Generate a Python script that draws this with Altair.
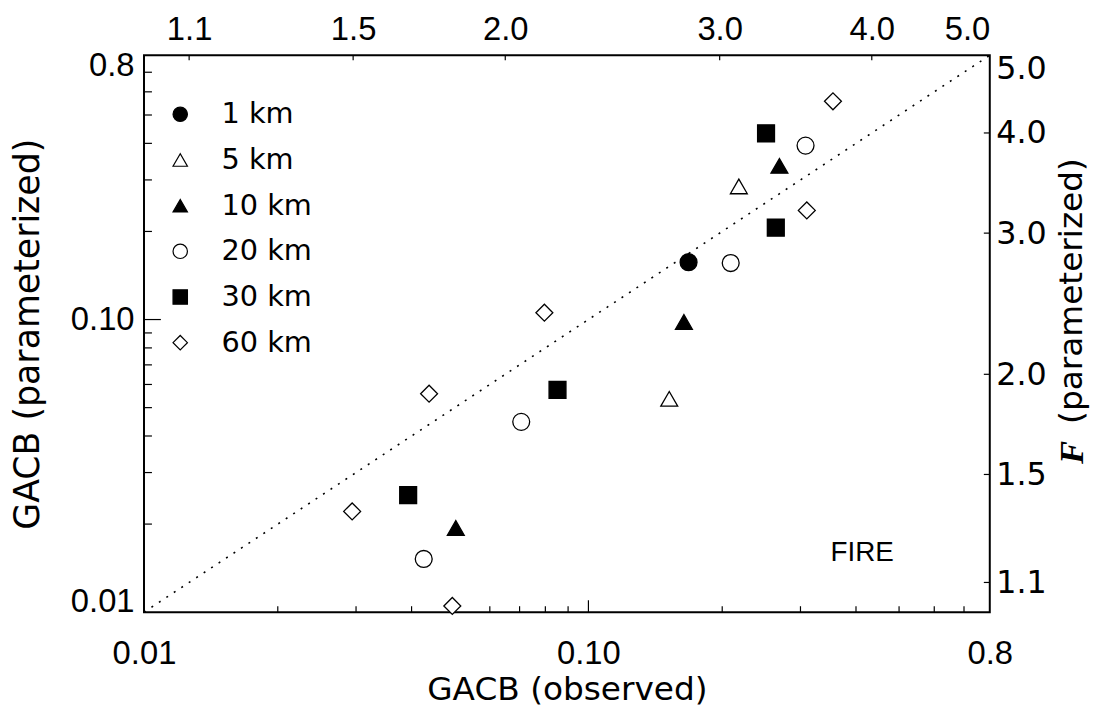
import altair as alt
import pandas as pd

# ---- data ----
categories = ["1 km", "5 km", "10 km", "20 km", "30 km", "60 km"]
shapes = ["circle", "triangle-up", "triangle-up", "circle", "square", "diamond"]
fills = ["black", "white", "black", "white", "black", "white"]
strokes = ["black"] * 6

obs_1km = [0.168]
par_1km = [0.157]
obs_5km = [0.218, 0.152]
par_5km = [0.285, 0.0536]
obs_10km = [0.269, 0.164, 0.0503]
par_10km = [0.335, 0.0981, 0.0194]
obs_20km = [0.308, 0.209, 0.0706, 0.0426]
par_20km = [0.393, 0.156, 0.0447, 0.0152]
obs_30km = [0.251, 0.264, 0.0852, 0.0393]
par_30km = [0.433, 0.206, 0.0575, 0.0251]
obs_60km = [0.355, 0.310, 0.0796, 0.0438, 0.0294, 0.0494]
par_60km = [0.557, 0.236, 0.1055, 0.0558, 0.0221, 0.0105]

diag_vals = [0.01, 0.8]

gacb_label_vals = [0.01, 0.1, 0.8]
gacb_label_text = ["0.01", "0.10", "0.8"]
gacb_minor = [0.02, 0.03, 0.04, 0.05, 0.06, 0.07, 0.08, 0.09, 0.2, 0.3, 0.4, 0.5, 0.6, 0.7]
gacb_major = [0.1]

f_label_vals = [1.1, 1.5, 2.0, 3.0, 4.0, 5.0]
f_tick_vals = [1.1, 1.5, 2.0, 3.0, 4.0]

annot_text = ["FIRE"]
annot_x = [0.413]
annot_y = [0.0159]

# ---- build tables ----
obs_all = [obs_1km, obs_5km, obs_10km, obs_20km, obs_30km, obs_60km]
par_all = [par_1km, par_5km, par_10km, par_20km, par_30km, par_60km]
rows = []
for cat, ox, py in zip(categories, obs_all, par_all):
    for a, b in zip(ox, py):
        rows.append({"res": cat, "obs": a, "par": b})
df = pd.DataFrame(rows)

W, H = 852, 561
LABEL_FONT = "Liberation Sans"
TITLE_FONT = "DejaVu Sans"

xs = alt.Scale(type="log", domain=[0.01, 0.8], nice=False)
ys = alt.Scale(type="log", domain=[0.01, 0.8], nice=False)
fs_x = alt.Scale(type="log", domain=[1.01, 5.0], nice=False)
fs_y = alt.Scale(type="log", domain=[1.01, 5.0], nice=False)

lab_expr = " : ".join(
    f"datum.value < {v * 1.2} ? '{t}'" for v, t in zip(gacb_label_vals[:-1], gacb_label_text[:-1])
) + f" : '{gacb_label_text[-1]}'"

x_axis = alt.Axis(
    orient="bottom", values=gacb_label_vals, labelExpr=lab_expr,
    grid=False, ticks=False, domain=False,
    labelFont=LABEL_FONT, labelFontSize=33, labelColor="black", labelPadding=26,
    labelFlush=False,
    title="GACB (observed)", titleFont=TITLE_FONT, titleFontSize=33,
    titleFontWeight="normal", titleColor="black",
    titleX=W / 2, titleY=78, titleAlign="center", titleBaseline="middle",
)
y_axis = alt.Axis(
    orient="left", values=gacb_label_vals, labelExpr=lab_expr,
    grid=False, ticks=False, domain=False,
    labelFont=LABEL_FONT, labelFontSize=33, labelColor="black", labelPadding=10,
    labelFlush=True, labelFlushOffset=6,
    title="GACB (parameterized)", titleFont=TITLE_FONT, titleFontSize=35,
    titleFontWeight="normal", titleColor="black", titleAngle=270,
    titleX=-117, titleY=H / 2, titleAlign="center", titleBaseline="middle",
)
top_axis = alt.Axis(
    orient="top", values=f_label_vals, format=".1f",
    grid=False, ticks=False, domain=False,
    labelFont=LABEL_FONT, labelFontSize=33, labelColor="black", labelPadding=9,
    labelFlush=True, title=None,
)
right_axis = alt.Axis(
    orient="right", values=f_label_vals, format=".1f",
    grid=False, ticks=False, domain=False,
    labelFont=TITLE_FONT, labelFontSize=32, labelColor="black", labelPadding=6,
    labelFlush=True, labelFlushOffset=2,
    title="(parameterized)", titleFont=TITLE_FONT, titleFontSize=33,
    titleFontWeight="normal", titleColor="black", titleAngle=270,
    titleX=82, titleY=237, titleAlign="center", titleBaseline="middle",
)

legend = alt.Legend(
    title=None, orient="none", legendX=22, legendY=45, padding=0,
    labelFont=TITLE_FONT, labelFontSize=29, labelColor="black", labelOffset=27,
    symbolSize=210, symbolStrokeColor="black", symbolStrokeWidth=1.2,
    symbolOpacity=1, rowPadding=16,
)

points = alt.Chart(df).mark_point(
    filled=True, size=290, strokeWidth=1.3, opacity=1
).encode(
    x=alt.X("obs:Q", scale=xs, axis=x_axis),
    y=alt.Y("par:Q", scale=ys, axis=y_axis),
    shape=alt.Shape("res:N", scale=alt.Scale(domain=categories, range=shapes),
                    sort=categories, legend=legend),
    fill=alt.Fill("res:N", scale=alt.Scale(domain=categories, range=fills),
                  sort=categories, legend=legend),
    stroke=alt.Stroke("res:N", scale=alt.Scale(domain=categories, range=strokes),
                      sort=categories, legend=legend),
)

diag = alt.Chart(pd.DataFrame({"v": diag_vals})).mark_line(
    stroke="black", strokeWidth=1.6, strokeDash=[2, 7]
).encode(
    x=alt.X("v:Q", scale=xs, axis=x_axis),
    y=alt.Y("v:Q", scale=ys, axis=y_axis),
)

minor_df = pd.DataFrame({"v": gacb_minor})
major_df = pd.DataFrame({"v": gacb_major})
rule_style = dict(stroke="black", strokeWidth=1.2)

bot_minor = alt.Chart(minor_df).mark_rule(**rule_style).encode(
    x=alt.X("v:Q", scale=xs, axis=x_axis), y=alt.value(H), y2=alt.value(H - 6))
bot_major = alt.Chart(major_df).mark_rule(**rule_style).encode(
    x=alt.X("v:Q", scale=xs, axis=x_axis), y=alt.value(H), y2=alt.value(H - 12))
left_minor = alt.Chart(minor_df).mark_rule(**rule_style).encode(
    y=alt.Y("v:Q", scale=ys, axis=y_axis), x=alt.value(0), x2=alt.value(8))
left_major = alt.Chart(major_df).mark_rule(**rule_style).encode(
    y=alt.Y("v:Q", scale=ys, axis=y_axis), x=alt.value(0), x2=alt.value(17))

fire = alt.Chart(pd.DataFrame({"x": annot_x, "y": annot_y, "t": annot_text})).mark_text(
    font=LABEL_FONT, fontSize=28, color="black", align="center", baseline="middle"
).encode(
    x=alt.X("x:Q", scale=xs, axis=x_axis),
    y=alt.Y("y:Q", scale=ys, axis=y_axis),
    text="t:N",
)

main = alt.layer(diag, bot_minor, bot_major, left_minor, left_major, fire, points)

f_df = pd.DataFrame({"F": f_tick_vals})
top_ticks = alt.Chart(f_df).mark_rule(**rule_style).encode(
    x=alt.X("F:Q", scale=fs_x, axis=top_axis), y=alt.value(0), y2=alt.value(5))
right_ticks = alt.Chart(f_df).mark_rule(**rule_style).encode(
    y=alt.Y("F:Q", scale=fs_y, axis=right_axis), x=alt.value(W), x2=alt.value(W - 6))
f_letter = alt.Chart(pd.DataFrame({"t": ["F"]})).mark_text(
    font="Liberation Serif", fontStyle="italic", fontWeight="bold", fontSize=35,
    color="black", angle=270, align="center", baseline="middle"
).encode(x=alt.value(W + 83), y=alt.value(400), text="t:N")

flayer = alt.layer(top_ticks, right_ticks, f_letter)

chart = alt.layer(main, flayer).resolve_scale(
    x="independent", y="independent"
).properties(
    width=W, height=H,
    autosize=alt.AutoSizeParams(type="none"),
    padding={"left": 137, "top": 45, "right": 107, "bottom": 106},
    background="white",
).configure_view(stroke="black", strokeWidth=2)

chart.save("out.html", embed_options={"renderer": "svg", "actions": False})
